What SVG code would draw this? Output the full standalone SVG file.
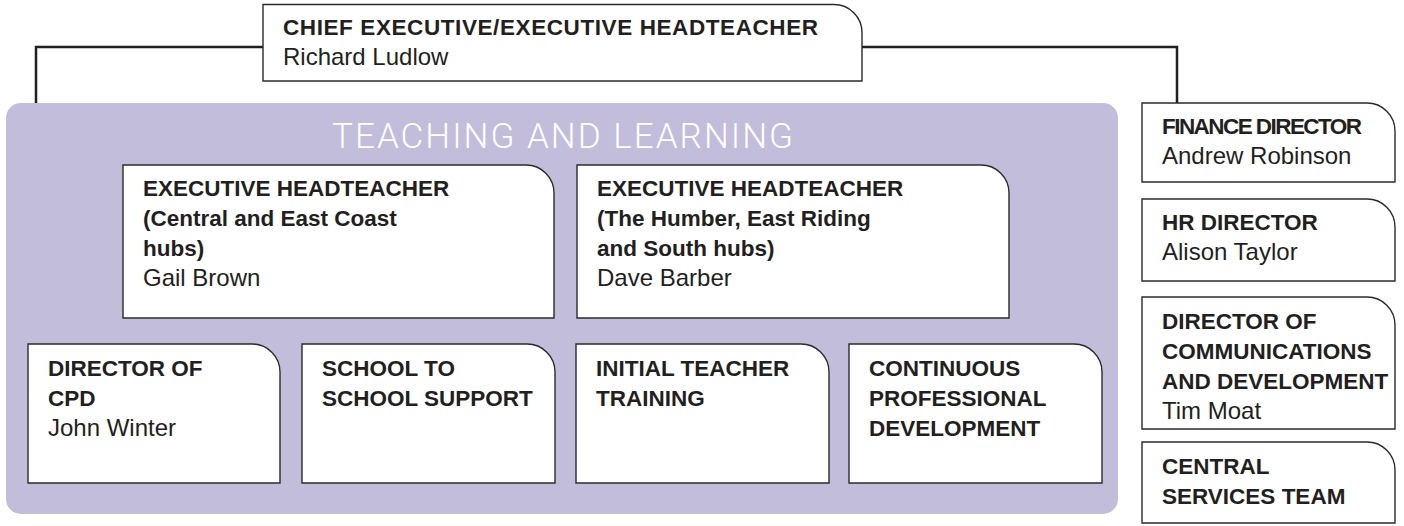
<svg xmlns="http://www.w3.org/2000/svg" width="1404" height="526" viewBox="0 0 1404 526">
<style>
.box{fill:#fff;stroke:#2b2a2c;stroke-width:1.4}
.b{font-family:"Liberation Sans",Arial,sans-serif;font-weight:bold;font-size:22.5px;fill:#231f20}
.r{font-family:"Liberation Sans",Arial,sans-serif;font-size:24px;fill:#231f20}
.conn{fill:none;stroke:#231f20;stroke-width:2.5}
.title{font-family:Roboto,"Liberation Sans",sans-serif;font-weight:300;font-size:35px;fill:#fff}
</style>
<rect id="panel" x="6" y="103" width="1112" height="411" rx="15" fill="#c1bddb"/>
<text class="title" x="332" y="148" textLength="461" lengthAdjust="spacing">TEACHING AND LEARNING</text>
<g id="connectors">
<path class="conn" d="M263,47 H36 V103"/>
<path class="conn" d="M862,47 H1177 V103"/>
</g>
<g id="chief">
<path class="box" d="M263,4.5 H834 A28,28 0 0 1 862,32.5 V81 H263 Z"/>
<text class="b" x="283" y="35" textLength="535" lengthAdjust="spacing">CHIEF EXECUTIVE/EXECUTIVE HEADTEACHER</text>
<text class="r" x="283" y="65">Richard Ludlow</text>
</g>
<g id="exec1">
<path class="box" d="M123,165 H526 A28,28 0 0 1 554,193 V318 H123 Z"/>
<text class="b" x="143" y="196">EXECUTIVE HEADTEACHER</text>
<text class="b" x="143" y="226">(Central and East Coast</text>
<text class="b" x="143" y="256">hubs)</text>
<text class="r" x="143" y="286">Gail Brown</text>
</g>
<g id="exec2">
<path class="box" d="M577,165 H981 A28,28 0 0 1 1009,193 V318 H577 Z"/>
<text class="b" x="597" y="196">EXECUTIVE HEADTEACHER</text>
<text class="b" x="597" y="226">(The Humber, East Riding</text>
<text class="b" x="597" y="256">and South hubs)</text>
<text class="r" x="597" y="286">Dave Barber</text>
</g>
<g id="cpd">
<path class="box" d="M28,344 H252 A28,28 0 0 1 280,372 V483 H28 Z"/>
<text class="b" x="48" y="376">DIRECTOR OF</text>
<text class="b" x="48" y="406">CPD</text>
<text class="r" x="48" y="436">John Winter</text>
</g>
<g id="s2s">
<path class="box" d="M302,344 H527 A28,28 0 0 1 555,372 V483 H302 Z"/>
<text class="b" x="322" y="376">SCHOOL TO</text>
<text class="b" x="322" y="406">SCHOOL SUPPORT</text>
</g>
<g id="itt">
<path class="box" d="M576,344 H801 A28,28 0 0 1 829,372 V483 H576 Z"/>
<text class="b" x="596" y="376">INITIAL TEACHER</text>
<text class="b" x="596" y="406">TRAINING</text>
</g>
<g id="cont">
<path class="box" d="M849,344 H1074 A28,28 0 0 1 1102,372 V483 H849 Z"/>
<text class="b" x="869" y="376">CONTINUOUS</text>
<text class="b" x="869" y="406">PROFESSIONAL</text>
<text class="b" x="869" y="436">DEVELOPMENT</text>
</g>
<g id="finance">
<path class="box" d="M1142,103 H1367 A28,28 0 0 1 1395,131 V182 H1142 Z"/>
<text class="b" x="1162" y="134" textLength="200" lengthAdjust="spacing">FINANCE DIRECTOR</text>
<text class="r" x="1162" y="164">Andrew Robinson</text>
</g>
<g id="hr">
<path class="box" d="M1142,199 H1367 A28,28 0 0 1 1395,227 V281 H1142 Z"/>
<text class="b" x="1162" y="230">HR DIRECTOR</text>
<text class="r" x="1162" y="260">Alison Taylor</text>
</g>
<g id="comms">
<path class="box" d="M1142,297 H1367 A28,28 0 0 1 1395,325 V429 H1142 Z"/>
<text class="b" x="1162" y="329">DIRECTOR OF</text>
<text class="b" x="1162" y="359">COMMUNICATIONS</text>
<text class="b" x="1162" y="389">AND DEVELOPMENT</text>
<text class="r" x="1162" y="419">Tim Moat</text>
</g>
<g id="central">
<path class="box" d="M1142,442 H1367 A28,28 0 0 1 1395,470 V523 H1142 Z"/>
<text class="b" x="1162" y="474">CENTRAL</text>
<text class="b" x="1162" y="504">SERVICES TEAM</text>
</g>
</svg>
